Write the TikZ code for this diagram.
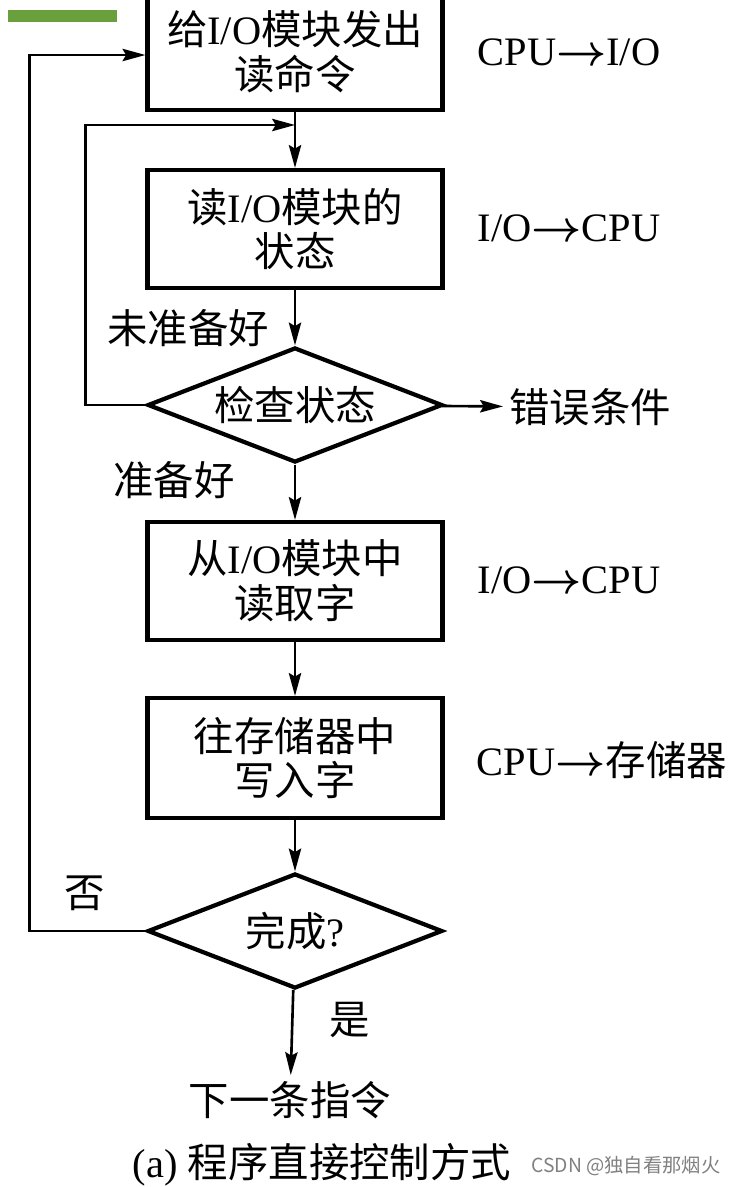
\documentclass[tikz,border=0pt]{standalone}
\usepackage{fontspec}
\setmainfont{Liberation Serif}
\newfontfamily\cjk{Noto Sans CJK SC}
\newcommand{\zh}[1]{{\cjk #1}}
\newcommand{\tto}{{\boldmath$\rightarrow$}}
\usetikzlibrary{shapes.geometric,arrows.meta}
\definecolor{barGreen}{RGB}{106,160,60}
\begin{document}
\begin{tikzpicture}[x=0.02cm, y=-0.02cm,
  arr/.style={line width=1.5pt, -{Stealth[length=13pt,width=7pt,inset=2pt]}},
  proc/.style={rectangle, draw, line width=2.4pt, minimum width=5.9cm, inner sep=0pt, align=center},
  test/.style={diamond, draw, line width=2.4pt, minimum width=5.9cm, minimum height=2.3cm, aspect=2.5, inner sep=0pt},
  every node/.style={font=\fontsize{23}{25.5}\selectfont}]
\useasboundingbox (0,0) rectangle (736,1187);
\fill [barGreen] (8,10) rectangle (117,22);
% flow boxes
\node [proc, minimum height=2.32cm] (b1) at (295,52) {\zh{给}I/O\zh{模块发出}\\\zh{读命令}};
\node [proc, minimum height=2.36cm] (b2) at (295,229) {\zh{读}I/O\zh{模块的}\\\zh{状态}};
\node [test] (d1) at (295,405) {\zh{检查状态}};
\node [proc, minimum height=2.36cm] (b3) at (295,581) {\zh{从}I/O\zh{模块中}\\\zh{读取字}};
\node [proc, minimum height=2.4cm] (b4) at (295,758) {\zh{往存储器中}\\\zh{写入字}};
\node [test] (d2) at (295,931) {\zh{完成}?};
\node (nx) at (290,1100) {\zh{下一条指令}};
% labels
\node (t1) at (569,52) {CPU\tto I/O};
\node (t2) at (569,228) {I/O\tto CPU};
\node (t3) at (569,580) {I/O\tto CPU};
\node (t4) at (602,760) {CPU\tto\zh{存储器}};
\node (nr) at (188,328) {\zh{未准备好}};
\node (rd) at (174,480) {\zh{准备好}};
\node [anchor=west] (err) at (503,407) {\zh{错误条件}};
\node (no) at (85,893) {\zh{否}};
\node (yes) at (350,1020) {\zh{是}};
\node (cap) at (322,1165) {(a) \zh{程序直接控制方式}};
\node [text=gray, font=\fontsize{11}{12}\selectfont\cjk] (wm) at (626,1166) {CSDN @独自看那烟火};
\coordinate (j1) at (295,125);
% connectors
\draw [arr] (b1) -- (b2);
\draw [arr] (b2) -- (d1);
\draw [arr] (d1) -- (b3);
\draw [arr] (b3) -- (b4);
\draw [arr] (b4) -- (d2);
\draw [arr] (d2) -- (nx);
\draw [arr] (d1) -- (err);
\draw [arr] (d1.west) -- ++(-60,0) |- (j1);
\draw [arr] (d2.west) -- ++(-116,0) |- ([yshift=-0.06cm]b1.west);
\end{tikzpicture}
\end{document}
